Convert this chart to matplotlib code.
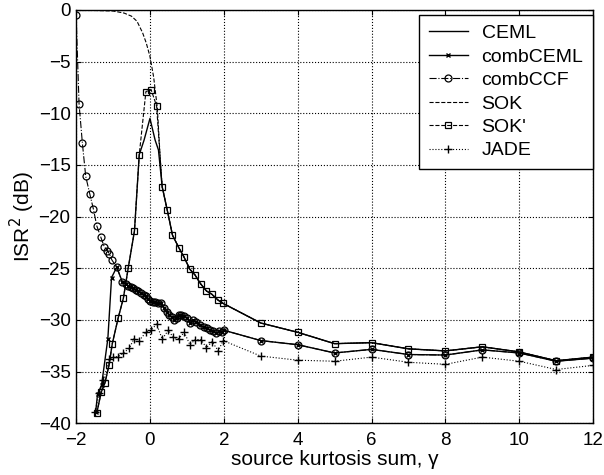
# ISR^2 vs source kurtosis sum, recreated from a scanned figure
import matplotlib
matplotlib.use('Agg')
import matplotlib.pyplot as plt

# shared tail of combCEML / combCCF
tail_x = [-0.75, -0.66, -0.59, -0.52, -0.45, -0.38, -0.32, -0.23, -0.16, -0.11, -0.05,
          0.00, 0.07, 0.14, 0.22, 0.30, 0.38, 0.45, 0.52, 0.59, 0.66, 0.72, 0.78, 0.85,
          0.92, 1.00, 1.08, 1.17, 1.26, 1.35, 1.45, 1.55, 1.63, 1.72, 1.80, 1.88, 1.95,
          2.00, 3, 4, 5, 6, 7, 8, 9, 10, 11, 12]
tail_y = [-26.3, -26.5, -26.7, -26.85, -26.95, -27.1, -27.2, -27.4, -27.55, -27.7, -28.0,
          -28.2, -28.3, -28.3, -28.4, -28.4, -28.8, -29.2, -29.5, -29.7, -30.0, -29.8, -29.5, -29.5,
          -29.6, -29.8, -30.3, -30.0, -30.2, -30.5, -30.7, -30.8, -31.0, -31.1, -31.3, -31.1, -31.2,
          -31.0, -32.0, -32.4, -33.2, -32.85, -33.35, -33.4, -32.9, -33.2, -34.0, -33.7]

combceml_x = [-1.47, -1.42, -1.31, -1.14, -1.04, -0.90] + tail_x
combceml_y = [-38.9, -37.2, -36.3, -31.8, -25.9, -24.9] + tail_y

combccf_x = [-2.0, -1.92, -1.83, -1.74, -1.63, -1.53, -1.44, -1.33, -1.24, -1.15,
             -1.10, -1.03, -0.90] + tail_x
combccf_y = [-0.5, -9.1, -12.9, -16.1, -17.8, -19.3, -20.9, -22.0, -22.9, -23.3,
             -23.6, -24.2, -24.9] + tail_y

right_x = [0.33, 0.47, 0.61, 0.78, 0.92, 1.08, 1.22, 1.37, 1.53, 1.67, 1.85, 1.98,
           3, 4, 5, 6, 7, 8, 9, 10, 11, 12]
right_y = [-17.1, -19.4, -21.8, -23.0, -23.9, -25.1, -25.65, -26.5, -27.2, -27.5, -28.1, -28.4,
           -30.3, -31.2, -32.3, -32.2, -32.8, -33.0, -32.6, -33.1, -33.95, -33.6]

left_x = [-1.44, -1.32, -1.22, -1.11, -1.02, -0.86, -0.72, -0.59, -0.42, -0.29]
left_y = [-39.0, -37.0, -36.1, -34.4, -32.3, -29.8, -27.9, -25.0, -21.4, -14.0]

sokp_x = left_x + [-0.11, 0.03, 0.18] + right_x
sokp_y = left_y + [-7.9, -7.7, -9.3] + right_y

ceml_x = left_x + [-0.16, 0.0, 0.14, 0.23] + right_x
ceml_y = left_y + [-12.6, -10.5, -12.6, -13.55] + right_y

sok_x = [-2.0, -1.5, -1.0, -0.7, -0.5, -0.35, -0.2, -0.1, 0.0, 0.1, 0.2, 0.27] + right_x
sok_y = [-0.05, -0.05, -0.1, -0.3, -0.6, -1.1, -2.2, -3.2, -4.5, -6.5, -9.5, -13.9] + right_y

jade_x = [-1.49, -1.37, -1.26, -1.10, -0.99, -0.86, -0.72, -0.56, -0.43, -0.29, -0.11, 0.03,
          0.18, 0.33, 0.50, 0.63, 0.78, 0.93, 1.08, 1.23, 1.38, 1.53, 1.68, 1.85, 1.98,
          3, 4, 5, 6, 7, 8, 9, 10, 11, 12]
jade_y = [-38.9, -37.1, -35.8, -33.8, -33.6, -33.55, -33.2, -32.75, -31.8, -32.0, -31.2, -31.0,
          -30.4, -31.85, -31.0, -31.7, -31.8, -31.2, -32.4, -31.9, -31.9, -32.7, -32.1, -33.0, -32.0,
          -33.5, -33.9, -34.0, -33.6, -34.1, -34.3, -33.6, -34.0, -34.8, -34.4]

plt.rcParams['font.family'] = ['Liberation Sans', 'DejaVu Sans']
plt.rcParams['font.size'] = 13

fig = plt.figure(figsize=(6.04, 4.75), dpi=100)
ax = fig.add_axes([0.126, 0.109, 0.856, 0.870])

k = 'black'
ax.plot(ceml_x, ceml_y, '-', color=k, lw=1.0, label='CEML')
ax.plot(combceml_x, combceml_y, '-', color=k, lw=1.0, marker='x', ms=3, mew=1.0,
        label='combCEML')
ax.plot(combccf_x, combccf_y, '-.', color=k, lw=0.8, marker='o', ms=5, mfc='none',
        mew=0.9, label='combCCF')
ax.plot(sok_x, sok_y, '--', color=k, lw=0.8, label='SOK')
ax.plot(sokp_x, sokp_y, '--', color=k, lw=0.8, marker='s', ms=4.5, mfc='none',
        mew=0.9, label="SOK'")
ax.plot(jade_x, jade_y, ':', color=k, lw=0.8, marker='+', ms=6, mew=1.0, label='JADE')

ax.set_xlim(-2, 12)
ax.set_ylim(-40, 0)
ax.set_xticks(range(-2, 13, 2))
ax.set_yticks(range(-40, 1, 5))
ax.grid(True, linestyle=':', color=k, lw=0.8)
ax.tick_params(direction='in', top=True, right=True, labelsize=13.5)
ax.tick_params(axis='x', pad=6)
ax.tick_params(axis='y', pad=4)
for s in ax.spines.values():
    s.set_linewidth(1.0)

ax.set_xlabel('source kurtosis sum, \u03b3', fontsize=15, labelpad=1)
ax.set_ylabel('ISR$^2$ (dB)', fontsize=15, labelpad=1)

leg = ax.legend(loc='upper right', bbox_to_anchor=(1.0, 0.988), fontsize=14,
                handlelength=2.0, handletextpad=0.7, fancybox=False, framealpha=1,
                edgecolor=k, borderaxespad=0, borderpad=0.5, labelspacing=0.3)
leg.get_frame().set_linewidth(1.0)

fig.savefig('out.png', dpi=100)
